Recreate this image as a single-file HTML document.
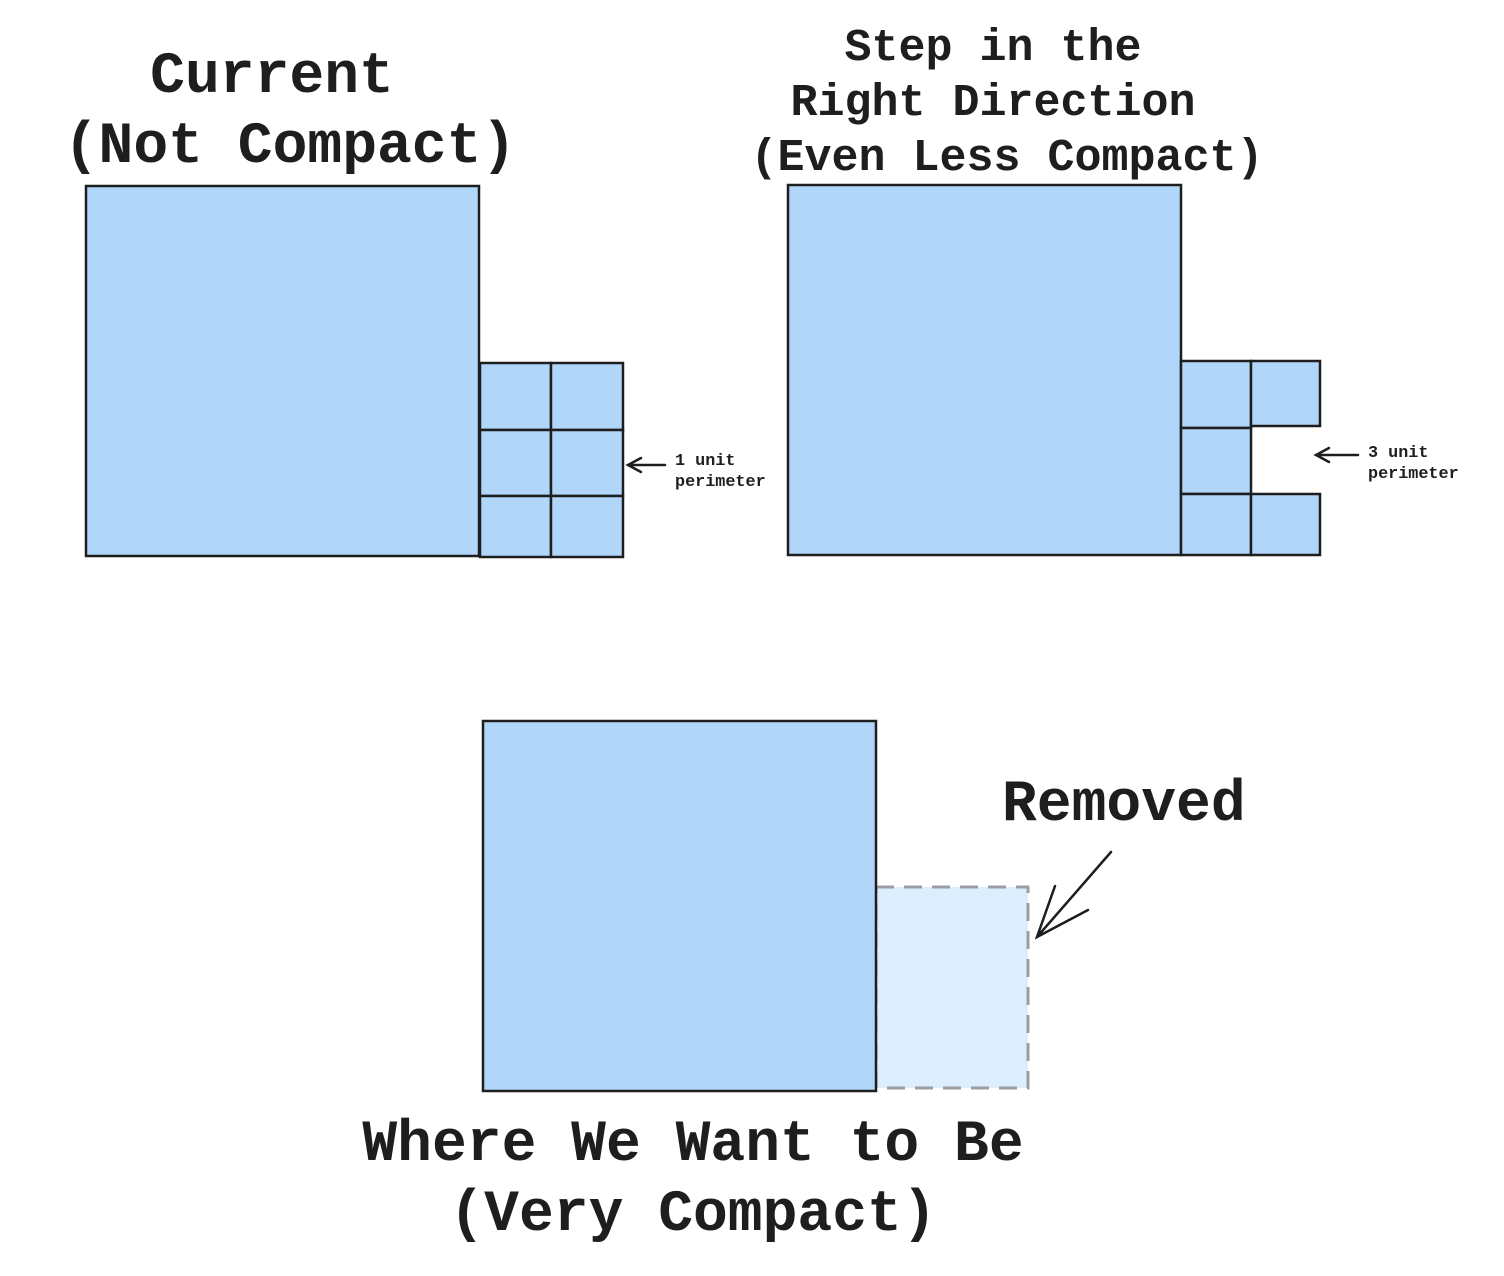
<!DOCTYPE html>
<html><head><meta charset="utf-8"><style>
html,body{margin:0;padding:0;background:#fff;}
svg{display:block}
text{font-family:"Liberation Mono",monospace;font-weight:bold;fill:#1e1e1e}
.b{fill:#b0d6fa;stroke:#1e1e1e;stroke-width:2.5}
.a{fill:none;stroke:#1e1e1e;stroke-width:2.5;stroke-linecap:round}
</style></head><body>
<svg width="1504" height="1276" viewBox="0 0 1504 1276">
<g>
<text x="272" y="92" font-size="58" text-anchor="middle">Current</text>
<text x="290" y="162" font-size="58" text-anchor="middle">(Not Compact)</text>
<rect class="b" x="86" y="186" width="393" height="370"/>
<rect class="b" x="480" y="363" width="71" height="67"/>
<rect class="b" x="551" y="363" width="72" height="67"/>
<rect class="b" x="480" y="430" width="71" height="66"/>
<rect class="b" x="551" y="430" width="72" height="66"/>
<rect class="b" x="480" y="496" width="71" height="61"/>
<rect class="b" x="551" y="496" width="72" height="61"/>
<path class="a" d="M665 465 L628 465 M641 458 L628 465 L641 472"/>
<text x="675" y="465" font-size="16.8">1 unit</text>
<text x="675" y="486" font-size="16.8">perimeter</text>
</g>
<g>
<text x="993" y="60" font-size="45" text-anchor="middle">Step in the</text>
<text x="993" y="115" font-size="45" text-anchor="middle">Right Direction</text>
<text x="1007" y="170" font-size="45" text-anchor="middle">(Even Less Compact)</text>
<rect class="b" x="788" y="185" width="393" height="370"/>
<rect class="b" x="1181" y="361" width="70" height="67"/>
<rect class="b" x="1251" y="361" width="69" height="65"/>
<rect class="b" x="1181" y="428" width="70" height="66"/>
<rect class="b" x="1181" y="494" width="70" height="61"/>
<rect class="b" x="1251" y="494" width="69" height="61"/>
<path class="a" d="M1358 455 L1316 455 M1329 448 L1316 455 L1329 462"/>
<text x="1368" y="457" font-size="16.8">3 unit</text>
<text x="1368" y="478" font-size="16.8">perimeter</text>
</g>
<g>
<rect x="876" y="887" width="152" height="201" fill="#dcedfd" stroke="#9a9ea3" stroke-width="3" stroke-dasharray="18 10"/>
<rect class="b" x="483" y="721" width="393" height="370"/>
<text x="1002" y="820" font-size="58">Removed</text>
<path class="a" d="M1111 852 L1037 937 M1055 886 L1037 937 L1088 910"/>
<text x="693" y="1160" font-size="58" text-anchor="middle">Where We Want to Be</text>
<text x="693" y="1230" font-size="58" text-anchor="middle">(Very Compact)</text>
</g>
</svg>
</body></html>
